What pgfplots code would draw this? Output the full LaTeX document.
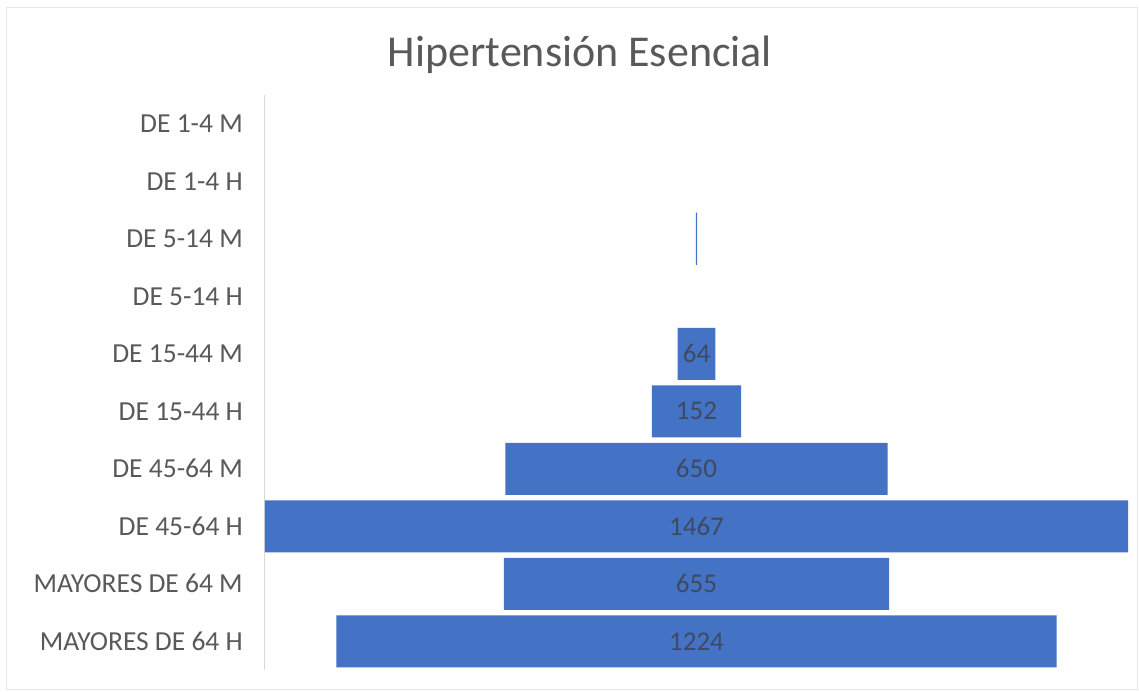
\documentclass[border=0pt]{standalone}
\usepackage{pgfplots}
\pgfplotsset{compat=1.18}
\usepackage{pgfplotstable}
\usepackage{fontspec}
\setmainfont{Carlito}

\definecolor{barblue}{HTML}{4472C4}
\definecolor{txtgray}{HTML}{595959}
\definecolor{lblgray}{HTML}{3F4A60}
\definecolor{axgray}{HTML}{D9D9D9}

% funnel: an invisible offset (1467 - val)/2 followed by the visible value
\pgfplotstableread{
idx off val lbl
0 733.5 0 {}
1 733.5 0 {}
2 732.5 2 {}
3 733.5 0 {}
4 701.5 64 64
5 657.5 152 152
6 408.5 650 650
7 0 1467 1467
8 406 655 655
9 121.5 1224 1224
}\funneldata

\begin{document}
\begin{tikzpicture}
% chart area frame
\path[use as bounding box] (-265pt,-22pt) rectangle (874pt,670pt);
\draw[axgray!60, line width=1pt] (-258pt,-20pt) rectangle (872pt,662pt);
\begin{axis}[
  at={(0pt,0pt)}, anchor=south west,
  scale only axis,
  width=863pt, height=575pt,
  xbar stacked,
  bar width=52pt,
  xmin=0, xmax=1467,
  ymin=-0.5, ymax=9.5,
  y dir=reverse,
  axis x line=none,
  axis y line=left,
  y axis line style={-, axgray, line width=1pt},
  ytick={0,...,9},
  yticklabels={DE 1-4 M, DE 1-4 H, DE 5-14 M, DE 5-14 H, DE 15-44 M, DE 15-44 H, DE 45-64 M, DE 45-64 H, MAYORES DE 64 M, MAYORES DE 64 H},
  major tick length=0pt,
  yticklabel style={font=\fontsize{27.5}{32}\selectfont, text=txtgray, inner sep=0pt, anchor=east, xshift=-22pt},
  title={Hipertensión Esencial},
  title style={font=\fontsize{44}{50}\selectfont, text=txtgray, at={(axis description cs:0.365,1)}, anchor=center, yshift=34pt},
  clip=false,
]
\addplot[draw=none, fill=none] table[x=off, y=idx] {\funneldata};
\addplot[draw=none, fill=barblue,
  point meta=explicit symbolic,
  nodes near coords,
  every node near coord/.append style={anchor=center, font=\fontsize{27}{32}\selectfont, text=lblgray},
] table[x=val, y=idx, meta=lbl] {\funneldata};
\end{axis}
\end{tikzpicture}
\end{document}
